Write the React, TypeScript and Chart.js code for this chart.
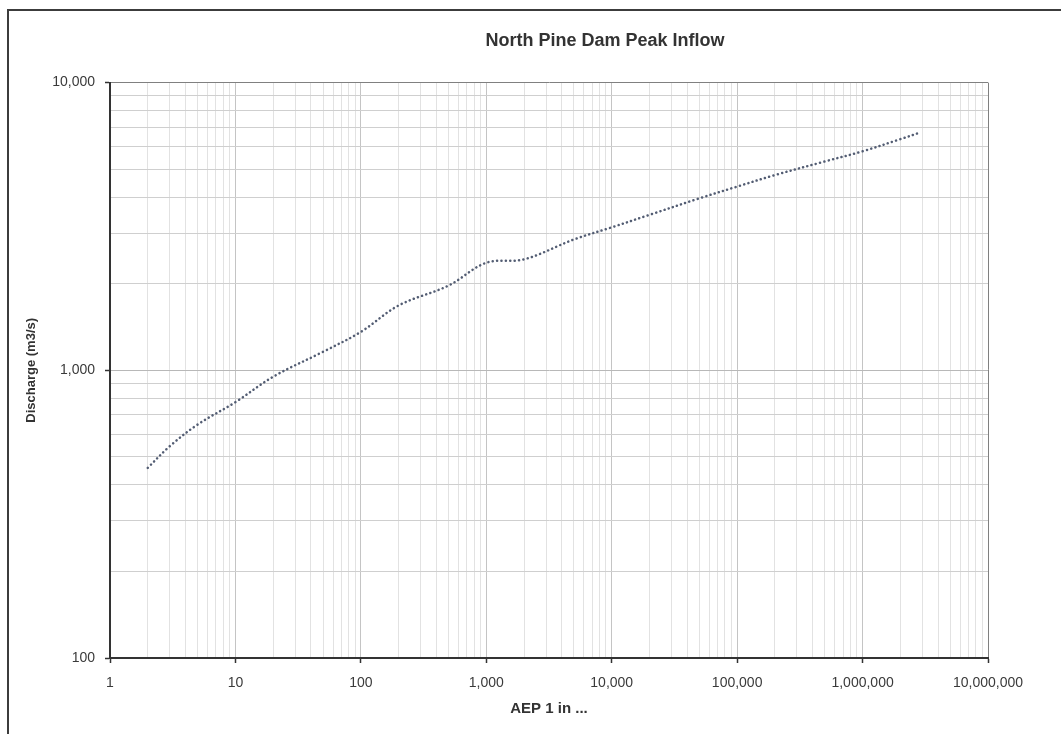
import React, { useEffect, useRef } from 'react';
import { Chart, registerables } from 'chart.js';

Chart.register(...registerables);

// ---- Data ----
const aepValues = [2, 3, 5, 10, 20, 50, 100, 200, 500, 1000, 2000, 5000, 10000, 20000, 50000, 100000, 200000, 500000, 1000000, 2000000, 2900000];
const dischargeValues = [458, 545, 648, 775, 950, 1160, 1360, 1680, 1970, 2365, 2430, 2850, 3140, 3470, 3960, 4350, 4770, 5320, 5770, 6360, 6715];

const xTickLabels = ['1', '10', '100', '1,000', '10,000', '100,000', '1,000,000', '10,000,000'];
const yTickLabels = ['100', '1,000', '10,000'];
const minorSteps = [2, 3, 4, 5, 6, 7, 8, 9];

const chartTitle = 'North Pine Dam Peak Inflow';
const xAxisTitle = 'AEP 1 in ...';
const yAxisTitle = 'Discharge (m3/s)';

function logTicks(minExp: number, maxExp: number) {
  const out: { value: number; major: boolean }[] = [];
  for (let e = minExp; e <= maxExp; e++) {
    const base = Math.pow(10, e);
    out.push({ value: base, major: true });
    if (e < maxExp) for (const m of minorSteps) out.push({ value: m * base, major: false });
  }
  return out;
}

export default function App() {
  const ref = useRef<HTMLCanvasElement>(null);

  useEffect(() => {
    document.body.style.margin = '0';
    const canvas = ref.current;
    if (!canvas) return;
    const family = "'Liberation Sans', Arial, Helvetica, sans-serif";
    const titleCenterX = 605;

    const titleShift = {
      id: 'titleShift',
      afterLayout(chart: any) {
        const t = chart.titleBlock;
        if (t) {
          t.left = titleCenterX - 300;
          t.right = titleCenterX + 300;
        }
      },
    };

    const bg = {
      id: 'bg',
      beforeDraw(chart: any) {
        const c = chart.ctx;
        c.save();
        c.fillStyle = '#ffffff';
        c.fillRect(0, 0, chart.width, chart.height);
        c.restore();
      },
    };

    const isMajor = (v: number) => Math.abs(Math.log10(v) - Math.round(Math.log10(v))) < 1e-9;

    const chart = new Chart(canvas, {
      type: 'line',
      data: {
        datasets: [
          {
            label: 'Peak Inflow',
            data: aepValues.map((x, i) => ({ x, y: dischargeValues[i] })),
            borderColor: '#535d73',
            borderWidth: 2.5,
            borderDash: [0.1, 4.3],
            borderCapStyle: 'round',
            pointRadius: 0,
            fill: false,
            tension: 0.35,
          } as any,
        ],
      },
      options: {
        animation: false,
        responsive: false,
        events: [],
        layout: { padding: { left: 8, right: 73, top: 0, bottom: 0 } },
        plugins: {
          legend: { display: false },
          tooltip: { enabled: false },
          title: {
            display: true,
            text: chartTitle,
            color: '#333333',
            font: { family, size: 18, weight: 'bold' },
            padding: { top: 30, bottom: 31 },
          },
        },
        scales: {
          x: {
            type: 'logarithmic',
            min: 1,
            max: 10000000,
            afterBuildTicks: (s: any) => {
              s.ticks = logTicks(0, 7);
            },
            afterFit: (s: any) => {
              s.height = 76;
            },
            ticks: {
              autoSkip: false,
              maxRotation: 0,
              minRotation: 0,
              padding: 12,
              color: '#3a3a3a',
              font: { family, size: 14 },
              callback: (value: any) => {
                const v = Number(value);
                if (!isMajor(v)) return '';
                return xTickLabels[Math.round(Math.log10(v))] ?? '';
              },
            },
            grid: {
              color: (c: any) => {
                const v = c.tick ? c.tick.value : 0;
                if (v >= 10000000) return '#808080';
                return isMajor(v) ? '#c4c4c4' : '#e2e2e2';
              },
              lineWidth: 1,
              drawTicks: true,
              tickLength: 5,
              tickWidth: 1.5,
              tickColor: (c: any) => {
                const v = c.tick ? c.tick.value : 0;
                return isMajor(v) ? '#333333' : 'rgba(0,0,0,0)';
              },
            },
            border: { display: true, color: '#333333', width: 2 },
            title: {
              display: true,
              text: xAxisTitle,
              color: '#333333',
              font: { family, size: 15, weight: 'bold' },
              padding: { top: 0, bottom: 16 },
            },
          } as any,
          y: {
            type: 'logarithmic',
            min: 100,
            max: 10000,
            afterBuildTicks: (s: any) => {
              s.ticks = logTicks(2, 4);
            },
            afterFit: (s: any) => {
              s.width = 102;
            },
            ticks: {
              autoSkip: false,
              padding: 10,
              color: '#3a3a3a',
              font: { family, size: 14 },
              callback: (value: any) => {
                const v = Number(value);
                if (!isMajor(v)) return '';
                return yTickLabels[Math.round(Math.log10(v)) - 2] ?? '';
              },
            },
            grid: {
              color: (c: any) => {
                const v = c.tick ? c.tick.value : 0;
                if (v >= 10000) return '#808080';
                return isMajor(v) ? '#b8b8b8' : '#cfcfcf';
              },
              lineWidth: 1,
              drawTicks: true,
              tickLength: 5,
              tickWidth: 1.5,
              tickColor: (c: any) => {
                const v = c.tick ? c.tick.value : 0;
                return isMajor(v) ? '#333333' : 'rgba(0,0,0,0)';
              },
            },
            border: { display: true, color: '#333333', width: 2 },
            title: {
              display: true,
              text: yAxisTitle,
              color: '#333333',
              font: { family, size: 13, weight: 'bold' },
              padding: { top: 16, bottom: 0 },
            },
          } as any,
        },
      },
      plugins: [bg, titleShift],
    });

    return () => {
      chart.destroy();
    };
  }, []);

  return (
    <div style={{ position: 'relative', width: 1061, height: 734, overflow: 'hidden', background: '#fff' }}>
      <canvas ref={ref} width={1061} height={734} style={{ display: 'block' }} />
      <div
        style={{
          position: 'absolute',
          left: 7,
          top: 9,
          width: 1100,
          height: 800,
          borderLeft: '2px solid #3c3c3c',
          borderTop: '2px solid #3c3c3c',
          pointerEvents: 'none',
        }}
      />
    </div>
  );
}
